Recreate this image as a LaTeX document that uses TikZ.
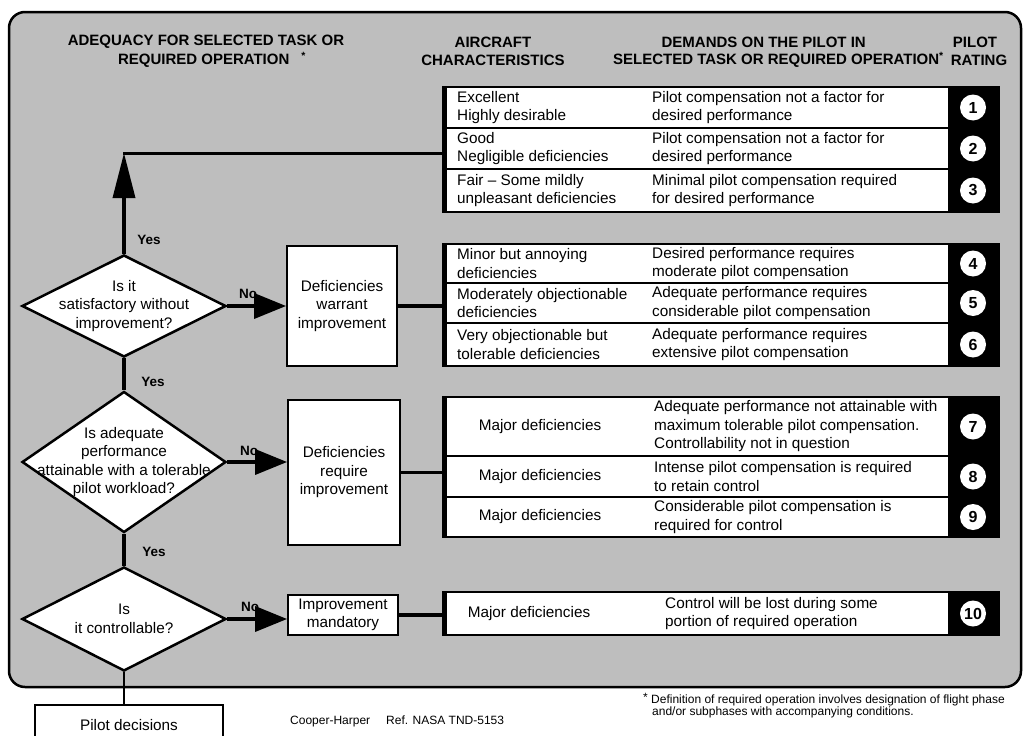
\documentclass[tikz,border=0pt]{standalone}
\usepackage{fontspec}
\setmainfont{Liberation Sans}
\usetikzlibrary{arrows.meta,shapes.geometric}
\definecolor{F}{RGB}{190,190,190}
\def\NumX{973}
\def\RowX{697.5}
\def\GrpX{721}

\begin{document}
\begin{tikzpicture}[x=1pt,y=-1pt,
    txt/.style={font=\fontsize{15.3}{18.5}\selectfont,align=left,inner sep=0pt},
    head/.style={font=\bfseries\fontsize{15}{16}\selectfont,inner sep=0pt},
    tag/.style={font=\bfseries\fontsize{13.5}{14}\selectfont,inner sep=0pt},
    quest/.style={diamond,draw,line width=2.5pt,fill=white,inner sep=0pt,minimum width=204},
    act/.style={draw,line width=1.8pt,fill=white,inner sep=0pt,align=center,font=\fontsize{15.3}{18.5}\selectfont},
    grp/.style={fill=black,inner sep=0pt,minimum width=558},
    rowbox/.style={fill=white,inner sep=0pt,minimum width=501},
    num/.style={circle,fill=white,inner sep=0pt,minimum size=26,font=\bfseries\fontsize{16}{16}\selectfont},
    link/.style={line width=3.5pt},
    noarrow/.style={link,-{Triangle[length=32pt,width=25pt]}}]
    \useasboundingbox (0,0) rectangle (1023,736);
    % background panel
    \draw[line width=2.5pt,fill=F,rounded corners=16pt] (9,12) rectangle (1021,687);
    % column heads
    \node[head] (h1a) at (206,42) {ADEQUACY FOR SELECTED TASK OR};
    \node[head] (h1b) at (212,60) {REQUIRED OPERATION\hspace{12pt}\textsuperscript{*}};
    \node[head] (h2a) at (493,42) {AIRCRAFT};
    \node[head] (h2b) at (493,60) {CHARACTERISTICS};
    \node[head,anchor=east] (h3a) at (866,42) {DEMANDS ON THE PILOT IN};
    \node[head,anchor=east] (h3b) at (944,60) {SELECTED TASK OR REQUIRED OPERATION\textsuperscript{*}};
    \node[head] (h4a) at (975,42) {PILOT};
    \node[head] (h4b) at (979,60) {RATING};
    % rating groups
    \node[grp,minimum height=127] (g1) at (\GrpX,149.5) {};
    \node[grp,minimum height=124] (g2) at (\GrpX,305) {};
    \node[grp,minimum height=142] (g3) at (\GrpX,467) {};
    \node[grp,minimum height=45] (g4) at (\GrpX,613.5) {};
    \foreach \n/\yc/\h/\lx/\la/\mx/\l/\m in {
        1/107.5/39/457/west/652/{Excellent\\Highly desirable}/{Pilot compensation not a factor for\\desired performance},
        2/148.5/39/457/west/652/{Good\\Negligible deficiencies}/{Pilot compensation not a factor for\\desired performance},
        3/190.5/41/457/west/652/{Fair -- Some mildly\\unpleasant deficiencies}/{Minimal pilot compensation required\\for desired performance},
        4/263.5/37/457/west/652/{Minor but annoying\\deficiencies}/{Desired performance requires\\moderate pilot compensation},
        5/303/38/457/west/652/{Moderately objectionable\\deficiencies}/{Adequate performance requires\\considerable pilot compensation},
        6/344.5/41/457/west/652/{Very objectionable but\\tolerable deficiencies}/{Adequate performance requires\\extensive pilot compensation},
        7/426.5/57/540/center/654/{Major deficiencies}/{Adequate performance not attainable with\\maximum tolerable pilot compensation.\\Controllability not in question},
        8/476.5/39/540/center/654/{Major deficiencies}/{Intense pilot compensation is required\\to retain control},
        9/517/38/540/center/654/{Major deficiencies}/{Considerable pilot compensation is\\required for control},
        10/613.5/41/529/center/665/{Major deficiencies}/{Control will be lost during some\\portion of required operation}} {
        \node[rowbox,minimum height=\h] (row\n) at (\RowX,\yc) {};
        \node[txt,anchor=\la] (char\n) at (\lx,\yc) {\l};
        \node[txt,anchor=west] (dem\n) at (\mx,\yc) {\m};
        \node[num] (pr\n) at (\NumX,\yc) {\n};
    }
    % decision chain
    \node[quest,minimum height=102] (q1) at (124,306) {};
    \node[txt,align=center] (q1t) at (q1) {Is it\\satisfactory without\\improvement?};
    \node[quest,minimum height=141] (q2) at (124,462) {};
    \node[txt,align=center] (q2t) at (q2) {Is adequate\\performance\\attainable with a tolerable\\pilot workload?};
    \node[quest,minimum height=104] (q3) at (124,619) {};
    \node[txt,align=center] (q3t) at (q3) {Is\\it controllable?};
    \node[act,minimum width=110,minimum height=120] (b1) at (342,306) {Deficiencies\\warrant\\improvement};
    \node[act,minimum width=112,minimum height=145] (b2) at (344,472.5) {Deficiencies\\require\\improvement};
    \node[act,minimum width=110,minimum height=40] (b3) at (343,615) {Improvement\\mandatory};
    \node[act,minimum width=188,minimum height=40] (pd) at (129,725) {Pilot decisions};
    % labels
    \node[tag] (yes1) at (149,240) {Yes};
    \node[tag] (yes2) at (153,382) {Yes};
    \node[tag] (yes3) at (154,552) {Yes};
    \node[tag] (no1) at (248,294) {No};
    \node[tag] (no2) at (249,451) {No};
    \node[tag] (no3) at (250,607) {No};
    % connectors
    \coordinate (top) at (124,153);
    \draw[link,-{Triangle[length=45pt,width=22pt]}] (q1.north) -- (top);
    \draw[line width=3pt,line cap=rect] (top) -- (top -| g1.west);
    \draw[link] (q1.south) -- (q2.north);
    \draw[link] (q2.south) -- (q3.north);
    \draw[line width=2.5pt] (q3.south) -- (q3.south |- pd.north);
    \draw[noarrow] (q1.east) -- (q1.east -| b1.west);
    \draw[noarrow] (q2.east) -- (q2.east -| b2.west);
    \draw[noarrow] (q3.east) -- (q3.east -| b3.west);
    \draw[link] (b1.east) -- (b1.east -| g2.west);
    \draw[link] (b2.east) -- (b2.east -| g3.west);
    \draw[link] (b3.east) -- (b3.east -| g4.west);
    % notes
    \node[anchor=west,inner sep=0pt,font=\fontsize{12}{12}\selectfont] (cite) at (290,721) {Cooper-Harper\hspace{16pt}Ref. NASA TND-5153};
    \node[anchor=north west,inner sep=0pt,align=left,font=\fontsize{12}{11}\selectfont] (fn) at (643,693) {\raisebox{2pt}{*} Definition of required operation involves designation of flight phase\\\hspace*{9pt}and/or subphases with accompanying conditions.};
\end{tikzpicture}
\end{document}
